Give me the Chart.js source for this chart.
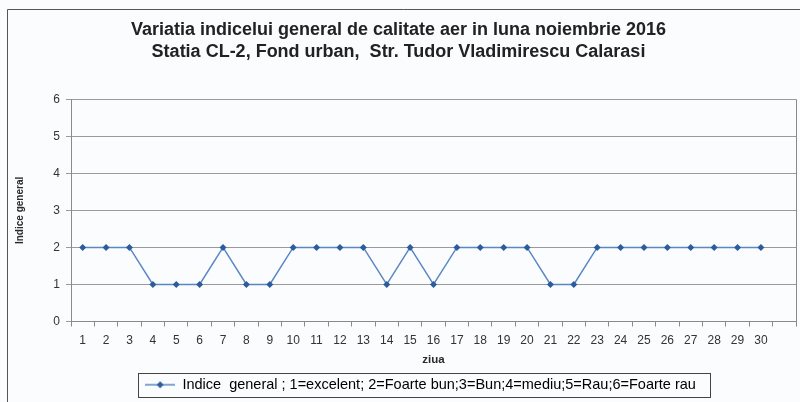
<!DOCTYPE html>
<html>
<head>
<meta charset="utf-8">
<script src="https://cdn.jsdelivr.net/npm/chart.js@4/dist/chart.umd.min.js"></script>
<style>
  html, body { margin: 0; padding: 0; background: #fbfcfe; }
  #wrap { width: 800px; height: 402px; }
</style>
</head>
<body>
<div id="wrap"><canvas id="chart" width="800" height="402"></canvas></div>
<script>
  const days = ["1","2","3","4","5","6","7","8","9","10","11","12","13","14","15",
    "16","17","18","19","20","21","22","23","24","25","26","27","28","29","30",""];
  const indice = [2,2,2,1,1,1,2,1,1,2,2,2,2,1,2,1,2,2,2,2,1,1,2,2,2,2,2,2,2,2,null];
  const titleLines = [
    "Variatia indicelui general de calitate aer in luna noiembrie 2016",
    "Statia CL-2, Fond urban,  Str. Tudor Vladimirescu Calarasi",
  ];
  const legendText = "Indice  general ; 1=excelent; 2=Foarte bun;3=Bun;4=mediu;5=Rau;6=Foarte rau";

  const palette = {
    line: "#5a88c4",
    point: "#2b5c9c",
    grid: "#9a9a9a",
    axis: "#8a8a8a",
    text: "#2a2a2a",
  };

  // legend marker: line with a diamond in the middle
  const marker = document.createElement("canvas");
  marker.width = 30;
  marker.height = 10;
  (function () {
    const c = marker.getContext("2d");
    c.strokeStyle = palette.line;
    c.lineWidth = 1.5;
    c.beginPath();
    c.moveTo(0, 5);
    c.lineTo(30, 5);
    c.stroke();
    c.fillStyle = palette.point;
    c.beginPath();
    c.moveTo(15, 1.5);
    c.lineTo(18.5, 5);
    c.lineTo(15, 8.5);
    c.lineTo(11.5, 5);
    c.closePath();
    c.fill();
  })();

  const frame = {
    id: "frame",
    afterLayout(chart) {
      // legend sits a bit right of centre in the original
      if (chart.legend) {
        chart.legend.left += 22;
        chart.legend.right += 22;
      }
    },
    afterDraw(chart) {
      const ctx = chart.ctx;
      const a = chart.chartArea;
      ctx.save();
      ctx.strokeStyle = palette.axis;
      ctx.lineWidth = 1;
      ctx.beginPath();
      ctx.moveTo(Math.round(a.right) + 0.5, a.top);
      ctx.lineTo(Math.round(a.right) + 0.5, a.bottom);
      ctx.stroke();
      // outer chart frame
      ctx.strokeStyle = "#555";
      ctx.beginPath();
      ctx.moveTo(7.5, 402);
      ctx.lineTo(7.5, 9.5);
      ctx.lineTo(800, 9.5);
      ctx.stroke();
      // legend box
      if (chart.legend) {
        ctx.strokeStyle = "#444";
        ctx.strokeRect(138.5, 373.5, 572, 24);
      }
      ctx.restore();
    },
  };

  Chart.defaults.font.family = '"Liberation Sans", Arial, sans-serif';
  Chart.defaults.color = palette.text;

  new Chart(document.getElementById("chart"), {
    type: "line",
    data: {
      labels: days,
      datasets: [
        {
          label: legendText,
          data: indice,
          borderColor: palette.line,
          backgroundColor: palette.point,
          borderWidth: 1.5,
          pointStyle: "rectRot",
          pointRadius: 3.5,
          pointBorderWidth: 0,
          pointBackgroundColor: palette.point,
          tension: 0,
        },
      ],
    },
    options: {
      responsive: false,
      animation: false,
      layout: { padding: { left: 0, right: 3, top: 0, bottom: 0 } },
      scales: {
        x: {
          offset: true,
          grid: {
            drawOnChartArea: false,
            offset: true,
            tickLength: 5,
            color: palette.axis,
          },
          border: { color: palette.axis },
          ticks: { font: { size: 12 }, color: "#333", maxRotation: 0, autoSkip: false, padding: 7 },
          title: {
            display: true,
            text: "ziua",
            font: { size: 11.5, weight: "bold" },
            padding: { top: 0, bottom: 5 },
          },
          afterFit(scale) {
            scale.height = 50;
          },
        },
        y: {
          min: 0,
          max: 6,
          ticks: { stepSize: 1, font: { size: 12 }, color: "#333", padding: 6 },
          grid: { color: palette.grid, tickLength: 5 },
          border: { color: palette.axis },
          title: {
            display: true,
            text: "Indice general",
            font: { size: 10, weight: "bold" },
            padding: { top: 14, bottom: 0 },
          },
          afterFit(scale) {
            scale.width = 71;
          },
        },
      },
      plugins: {
        title: {
          display: true,
          text: titleLines,
          font: { size: 18, weight: "bold", lineHeight: 1.23 },
          color: "#222",
          padding: { top: 19, bottom: 36 },
        },
        legend: {
          position: "bottom",
          labels: {
            usePointStyle: true,
            pointStyleWidth: 30,
            boxHeight: 10,
            font: { size: 14.5 },
            color: "#222",
            padding: 6,
            generateLabels(chart) {
              return [
                {
                  text: legendText,
                  pointStyle: marker,
                  fillStyle: palette.point,
                  strokeStyle: palette.line,
                  lineWidth: 0,
                  datasetIndex: 0,
                },
              ];
            },
          },
        },
        tooltip: { enabled: false },
      },
    },
    plugins: [frame],
  });
</script>
</body>
</html>
